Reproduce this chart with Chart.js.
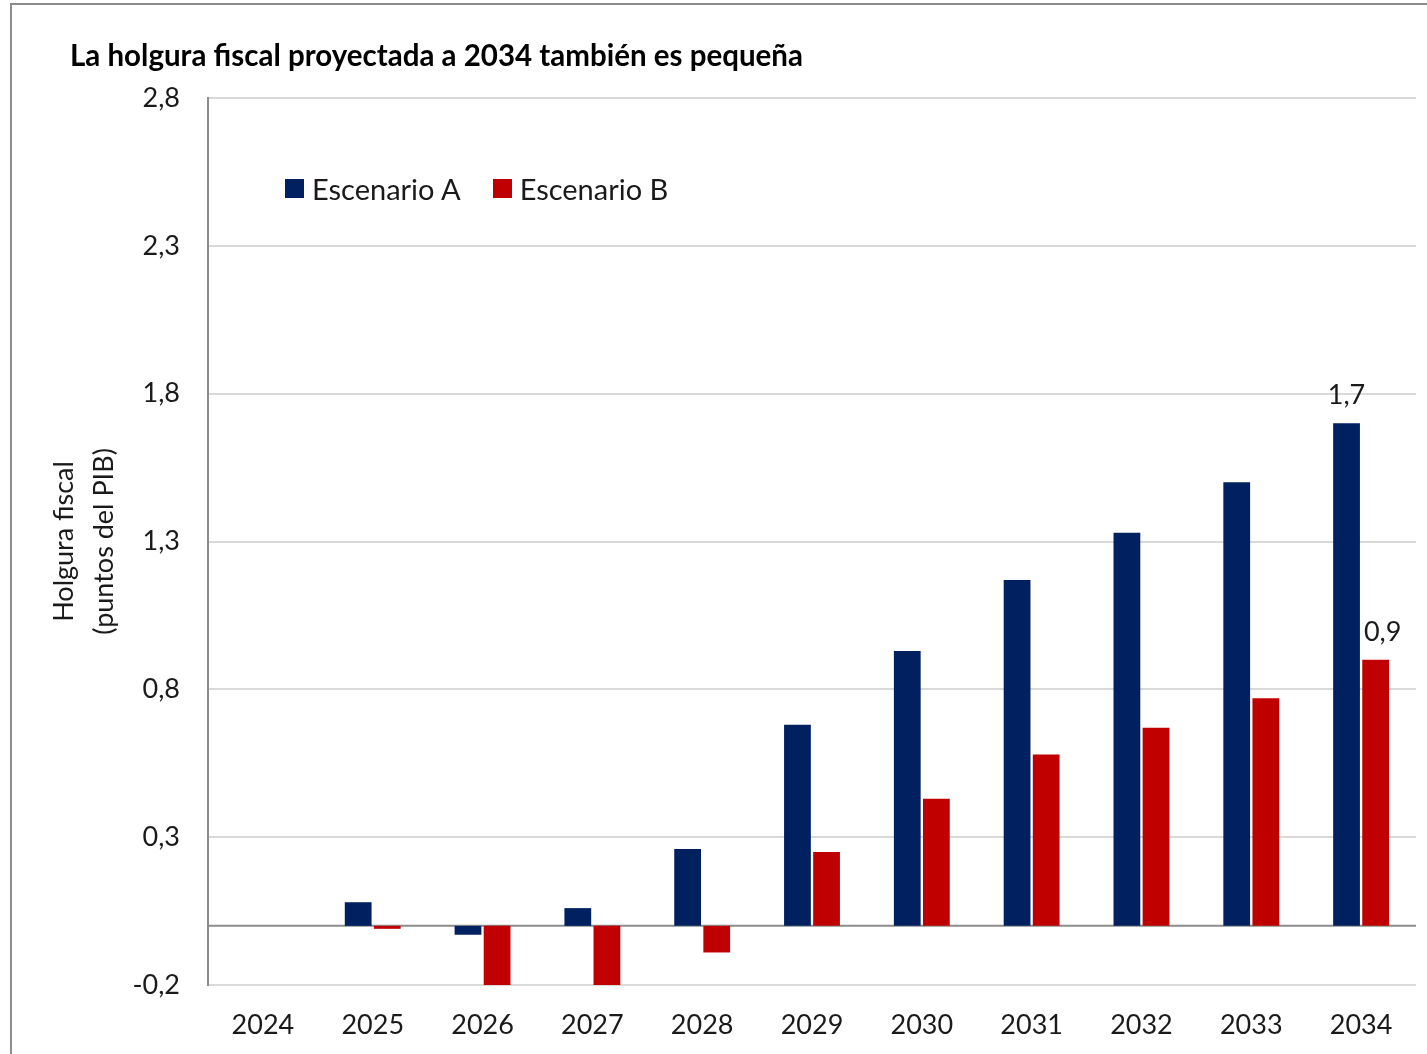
<!DOCTYPE html>
<html>
<head>
<meta charset="utf-8">
<script src="https://cdn.jsdelivr.net/npm/chart.js@4.4.1/dist/chart.umd.min.js"></script>
<style>
  html, body { margin: 0; padding: 0; background: #fff; }
  #wrap { position: relative; width: 1427px; height: 1054px; overflow: hidden; }
  #frame { position: absolute; left: 10px; top: 3px; width: 1440px; height: 1080px; border: 2px solid #8c8c8c; box-sizing: border-box; }
  #title { position: absolute; left: 70px; top: 37px; font-family: Lato, sans-serif; font-weight: bold; font-size: 29.5px; color: #000; white-space: nowrap; }
  #legend { position: absolute; left: 285px; top: 171px; font-family: Lato, sans-serif; font-size: 29px; color: #1a1a1a; white-space: nowrap; display: flex; align-items: center; }
  #legend .sw { display: inline-block; width: 19px; height: 19px; margin-right: 8px; }
  #legend .it { display: flex; align-items: center; margin-right: 32px; }
  canvas { position: absolute; left: 0; top: 0; }
</style>
</head>
<body>
<div id="wrap">
  <div id="frame"></div>
  <canvas id="c" width="1427" height="1054"></canvas>
  <div id="title">La holgura fiscal proyectada a 2034 también es pequeña</div>
  <div id="legend"></div>
</div>
<script>
const categories = ['2024','2025','2026','2027','2028','2029','2030','2031','2032','2033','2034'];
const seriesNames = ['Escenario A', 'Escenario B'];
const escenarioA = [0, 0.08, -0.03, 0.06, 0.26, 0.68, 0.93, 1.17, 1.33, 1.50, 1.70];
const escenarioB = [0, -0.01, -0.25, -0.25, -0.09, 0.25, 0.43, 0.58, 0.67, 0.77, 0.90];
const yTicks = [-0.2, 0.3, 0.8, 1.3, 1.8, 2.3, 2.8];
const yTitle = ['Holgura fiscal', '(puntos del PIB)'];
const labeledIndex = [10];
const colors = ['#002060', '#C00000'];

const FONT = 'Lato, sans-serif';
const TXT = '#1a1a1a';
const fmt = v => v.toFixed(1).replace('.', ',');

// HTML legend
const leg = document.getElementById('legend');
seriesNames.forEach((n, i) => {
  const it = document.createElement('span'); it.className = 'it';
  const sw = document.createElement('span'); sw.className = 'sw'; sw.style.background = colors[i];
  it.appendChild(sw); it.appendChild(document.createTextNode(n));
  leg.appendChild(it);
});

const extras = {
  id: 'extras',
  beforeDatasetsDraw(chart) {
    const {ctx, chartArea, scales} = chart;
    const y0 = scales.y.getPixelForValue(0);
    ctx.save();
    ctx.strokeStyle = '#8c8c8c';
    ctx.lineWidth = 2;
    ctx.beginPath(); ctx.moveTo(chartArea.left, y0); ctx.lineTo(chartArea.right, y0); ctx.stroke();
    ctx.restore();
  },
  afterDatasetsDraw(chart) {
    const {ctx, chartArea} = chart;
    ctx.save();
    ctx.font = '27px ' + FONT;
    ctx.fillStyle = TXT;
    ctx.textAlign = 'center';
    ctx.textBaseline = 'bottom';
    chart.data.datasets.forEach((ds, di) => {
      const meta = chart.getDatasetMeta(di);
      labeledIndex.forEach(i => {
        const el = meta.data[i];
        ctx.fillText(fmt(ds.data[i]), el.x + (di === 1 ? 7 : 0), el.y - 14);
      });
    });
    // y axis title
    ctx.translate(84, (chartArea.top + chartArea.bottom) / 2);
    ctx.rotate(-Math.PI / 2);
    ctx.textBaseline = 'middle';
    ctx.fillText(yTitle[0], 0, -20);
    ctx.fillText(yTitle[1], 0, 20);
    ctx.restore();
  }
};

new Chart(document.getElementById('c'), {
  type: 'bar',
  data: {
    labels: categories,
    datasets: [
      { label: seriesNames[0], data: escenarioA, backgroundColor: colors[0], barPercentage: 0.92, categoryPercentage: 0.53 },
      { label: seriesNames[1], data: escenarioB, backgroundColor: colors[1], barPercentage: 0.92, categoryPercentage: 0.53 }
    ]
  },
  options: {
    responsive: false,
    animation: false,
    layout: { padding: { top: 98, right: 11, left: 0, bottom: 0 } },
    plugins: { legend: { display: false }, tooltip: { enabled: false }, title: { display: false } },
    scales: {
      x: {
        grid: { display: false, drawTicks: false },
        border: { display: false },
        ticks: { font: { family: FONT, size: 27 }, color: TXT, padding: 24, maxRotation: 0 },
        afterFit(s) { s.height = 69; }
      },
      y: {
        min: -0.2, max: 2.8,
        afterBuildTicks(s) { s.ticks = yTicks.map(v => ({ value: v })); },
        grid: { color: '#d9d9d9', lineWidth: 2, drawTicks: false },
        border: { display: true, color: '#8c8c8c', width: 2 },
        ticks: { font: { family: FONT, size: 27 }, color: TXT, padding: 28, callback: v => fmt(v) },
        afterFit(s) { s.width = 208; }
      }
    }
  },
  plugins: [extras]
});
</script>
</body>
</html>
